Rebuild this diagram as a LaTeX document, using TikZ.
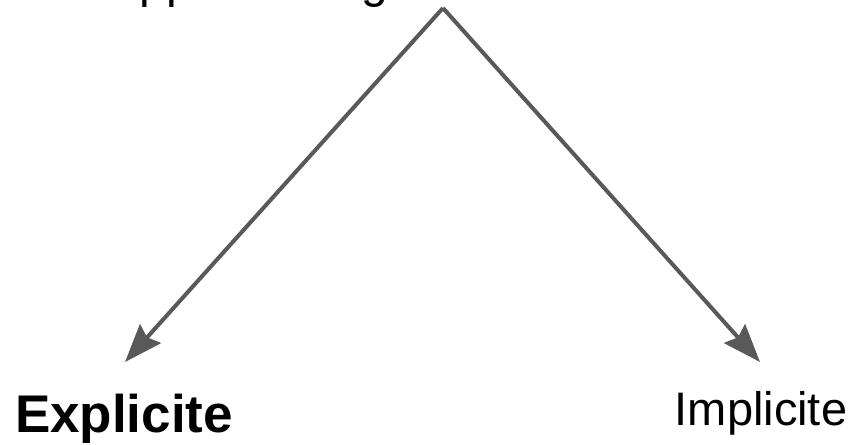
\documentclass[tikz,border=0pt]{standalone}
\usepackage{fontspec}
\setmainfont{Liberation Sans}
\usepackage{tikz}
\usetikzlibrary{arrows.meta}
\definecolor{arrowgray}{HTML}{595959}

\begin{document}
\begin{tikzpicture}[x=1bp,y=-1bp]
  		\def\lineWidth{4bp}
  		\tikzset{
  			label/.style={inner sep=0pt, anchor=base},
  			branch/.style={draw=arrowgray, line width=\lineWidth, line join=miter,
  				-{Stealth[length=38bp, width=28bp, inset=5bp]}}
  		}
  		\useasboundingbox (0,0) rectangle (854,445);
  		\node[label, anchor=base west, font=\fontsize{48bp}{56bp}\selectfont] (apprentissage) at (107.6,-2) {Apprentissage};
  		\coordinate (apex) at (443,8);
  		\coordinate (tipExplicite) at (125,362);
  		\coordinate (tipImplicite) at (760,362);
  		\draw[branch] (apex) -- (tipExplicite);
  		\draw[branch] (apex) -- (tipImplicite);
  		\node[label, font=\fontsize{53bp}{60bp}\selectfont\bfseries] (explicite) at (124,432) {Explicite};
  		\node[label, font=\fontsize{47bp}{54bp}\selectfont] (implicite) at (761,425) {Implicite};
\end{tikzpicture}
\end{document}
